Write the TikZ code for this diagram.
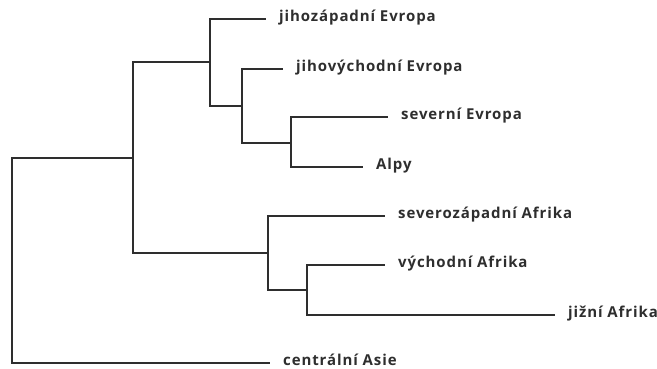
\documentclass[tikz,border=0pt]{standalone}
\usepackage{fontspec}
\setmainfont{Open Sans}[LetterSpace=6]
\colorlet{treegray}{black!82}

\tikzset{
  branch/.style={line width=2pt, treegray},
  leaf/.style={anchor=west, inner xsep=13pt, inner ysep=0pt,
    text height=1ex, text depth=0pt,
    font=\fontsize{15}{18}\selectfont\bfseries, text=treegray},
}

\begin{document}
\begin{tikzpicture}[x=1pt, y=-1pt]
  \useasboundingbox (0,0) rectangle (657,369);

  % inner nodes of the tree
  \coordinate (root) at (12,260);
  \coordinate (split) at (133,158);
  \coordinate (europe) at (210,62);
  \coordinate (southeast) at (242,106);
  \coordinate (north) at (291,143);
  \coordinate (africa) at (268,253);
  \coordinate (east) at (307,290);

  % leaves
  \node[leaf] (jz) at (266,19) {jihozápadní Evropa};
  \node[leaf] (jv) at (283,69) {jihovýchodní Evropa};
  \node[leaf] (sev) at (388,117) {severní Evropa};
  \node[leaf] (alpy) at (363,167) {Alpy};
  \node[leaf] (sz) at (385,216) {severozápadní Afrika};
  \node[leaf] (vych) at (385,265) {východní Afrika};
  \node[leaf] (jiz) at (555,315) {jižní Afrika};
  \node[leaf] (asie) at (270,363) {centrální Asie};

  \draw[branch] (root) |- (split);
  \draw[branch] (root) |- (asie.west);
  \draw[branch] (split) |- (europe);
  \draw[branch] (split) |- (africa);
  \draw[branch] (europe) |- (jz.west);
  \draw[branch] (europe) |- (southeast);
  \draw[branch] (southeast) |- (jv.west);
  \draw[branch] (southeast) |- (north);
  \draw[branch] (north) |- (sev.west);
  \draw[branch] (north) |- (alpy.west);
  \draw[branch] (africa) |- (sz.west);
  \draw[branch] (africa) |- (east);
  \draw[branch] (east) |- (vych.west);
  \draw[branch] (east) |- (jiz.west);
\end{tikzpicture}
\end{document}
